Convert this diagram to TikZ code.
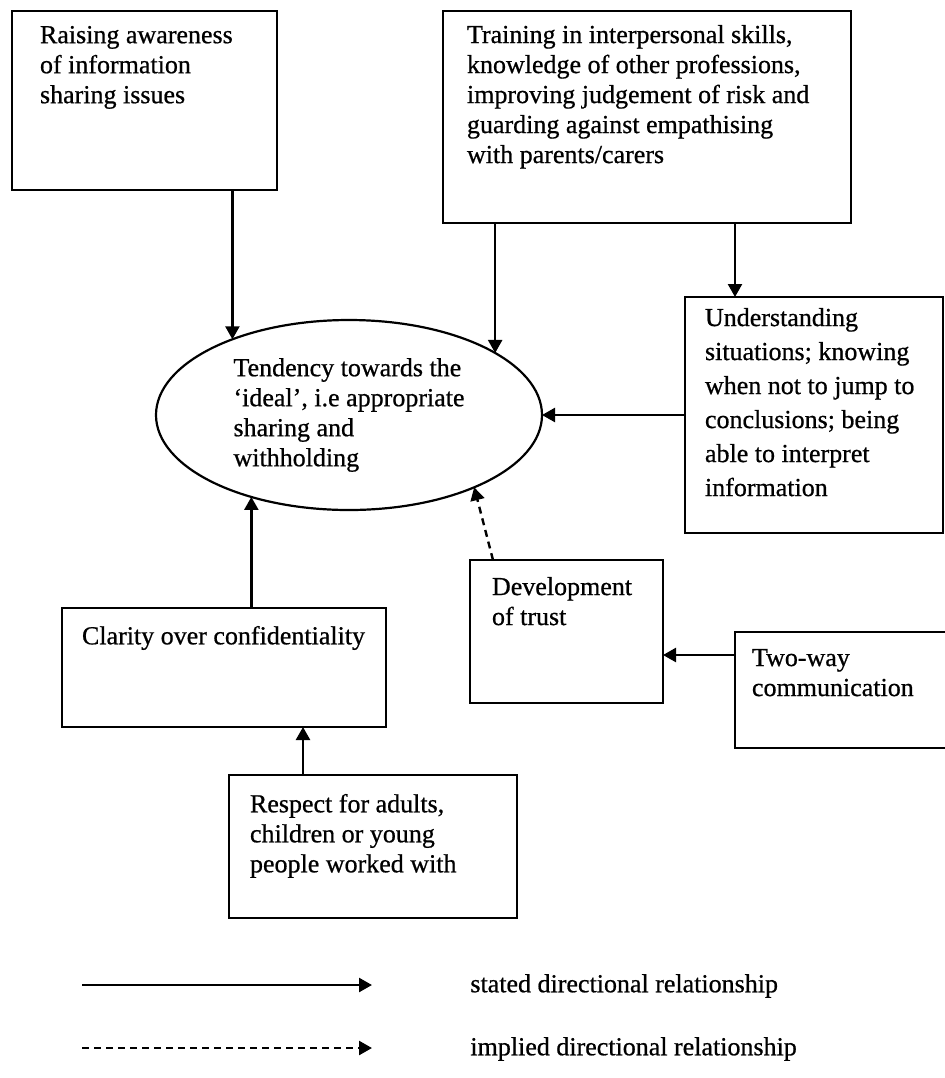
\documentclass[tikz,border=0pt]{standalone}
\usepackage{fontspec}
\setmainfont{Liberation Serif}[UprightFeatures={FakeBold=0.7}]
\usetikzlibrary{arrows.meta,shapes.geometric,calc}

\tikzset{
  box/.style={draw, line width=1.2pt, anchor=north west, outer sep=0pt},
  ell/.style={draw, ellipse, line width=1.1pt, outer sep=0pt, inner sep=0pt,
              minimum width=193pt, minimum height=95pt, align=left},
  arr/.style={line width=1.2pt, -{Triangle[length=6.5pt,width=7pt]}},
  darr/.style={arr, dash pattern=on 3.5pt off 2.5pt},
  legendtext/.style={anchor=west, inner sep=0pt},
  every node/.style={font=\fontsize{13}{15}\selectfont}
}

% box with its text set flush at the top left:
% name, x1, y1, x2, y2, left padding, top padding, text
\newcommand{\boxnode}[8]{%
  \pgfmathsetlengthmacro{\bxw}{((#4)-(#2)-2*(#6))*0.5pt}%
  \pgfmathsetlengthmacro{\bxh}{((#5)-(#3)-2*(#7))*0.5pt}%
  \pgfmathsetlengthmacro{\bxpx}{(#6)*0.5pt}%
  \pgfmathsetlengthmacro{\bxpy}{(#7)*0.5pt}%
  \node[box, inner xsep=\bxpx, inner ysep=\bxpy] (#1) at (#2,#3)
    {\parbox[t][\bxh][t]{\bxw}{\raggedright #8}};%
}

\begin{document}
\begin{tikzpicture}[x=0.5pt, y=-0.5pt]
  \useasboundingbox (0,0) rectangle (944,1078);

  % boxes
  \boxnode{aware}{12}{11}{277}{190}{28}{15}{Raising awareness\\of information\\sharing issues}
  \boxnode{train}{443}{11}{851}{223}{24}{14}{Training in interpersonal skills,\\knowledge of other professions,\\improving judgement of risk and\\guarding against empathising\\with parents/carers}
  \boxnode{under}{685}{297}{943}{533}{20}{11}{\fontsize{13}{17}\selectfont Understanding\\situations; knowing\\when not to jump to\\conclusions; being\\able to interpret\\information}
  \boxnode{trust}{470}{560}{663}{703}{22}{17}{Development\\of trust}
  \boxnode{clar}{62}{608}{386}{727}{20}{18}{Clarity over confidentiality}
  \boxnode{resp}{229}{775}{517}{918}{21}{19}{Respect for adults,\\children or young\\people worked with}
  \boxnode{twoway}{735}{632}{948}{748}{17}{17}{Two-way\\communication}

  % central ellipse
  \node[ell] (ideal) at (349,415)
    {Tendency towards the\\‘ideal’, i.e appropriate\\sharing and\\withholding};

  % stated relationships
  \draw[arr] (ideal.147.8 |- aware.south) -- (ideal.147.8);
  \draw[arr] (ideal.23.6 |- train.south) -- (ideal.23.6);
  \coordinate (tu) at ($(under.north west)+(50,0)$);
  \draw[arr] (tu |- train.south) -- (tu);
  \draw[arr] (under.west) -- (ideal.east);
  \draw[arr] (ideal.220.5 |- clar.north) -- (ideal.220.5);
  \coordinate (rc) at ($(resp.north west)+(74,0)$);
  \draw[arr] (rc) -- (rc |- clar.south);
  \coordinate (tw) at ($(twoway.north west)+(0,23)$);
  \draw[arr] (tw) -- (tw -| trust.east);

  % implied relationship
  \coordinate (dt) at ($(trust.north west)+(23,0)$);
  \draw[darr] (dt) -- (ideal.-30.7);

  % key
  \coordinate (s0) at (82,985);
  \coordinate (s1) at (372,985);
  \coordinate (i0) at (82,1048);
  \coordinate (i1) at (372,1048);
  \draw[arr] (s0) -- (s1);
  \draw[darr] (i0) -- (i1);
  \node[legendtext] (stated) at (470,986) {stated directional relationship};
  \node[legendtext] (implied) at (470,1049) {implied directional relationship};
\end{tikzpicture}
\end{document}
